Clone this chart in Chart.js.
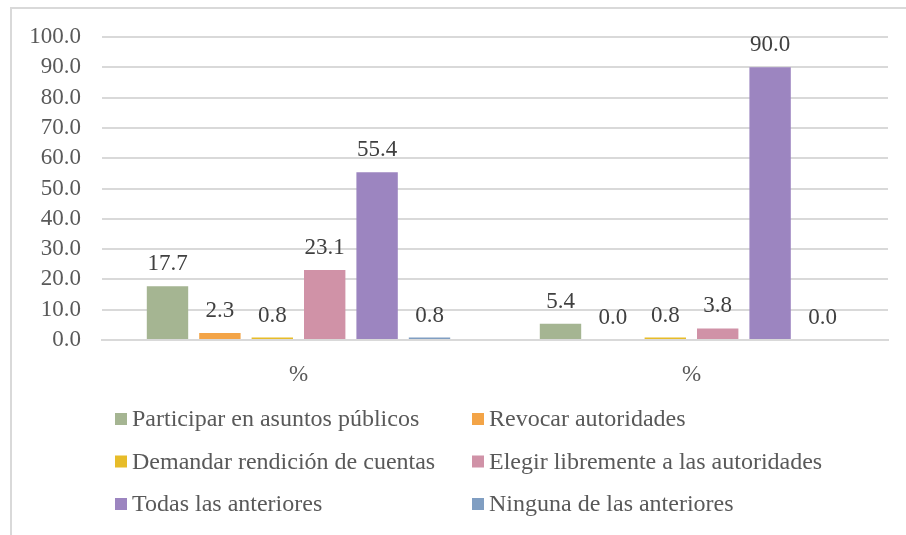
<!DOCTYPE html>
<html>
<head>
<meta charset="utf-8">
<script src="https://cdn.jsdelivr.net/npm/chart.js@4/dist/chart.umd.min.js"></script>
<style>
    body { margin: 0; background: #fff; }
    #wrap { position: relative; width: 906px; height: 535px; }
    #frame { position: absolute; left: 10px; top: 7px; right: 0; bottom: 0;
             border-left: 2px solid #d9d9d9; border-top: 2px solid #d9d9d9; }
    canvas { position: absolute; left: 0; top: 0; }
</style>
</head>
<body>
<div id="wrap">
    <div id="frame"></div>
    <canvas id="chart" width="906" height="535"></canvas>
</div>
<script>
// Categorie e serie
const categories = ["%", "%"];
const seriesNames = [
    "Participar en asuntos públicos",
    "Revocar autoridades",
    "Demandar rendición de cuentas",
    "Elegir libremente a las autoridades",
    "Todas las anteriores",
    "Ninguna de las anteriores"
];
const participar = [17.7, 5.4];
const revocar = [2.3, 0.0];
const demandar = [0.8, 0.8];
const elegir = [23.1, 3.8];
const todas = [55.4, 90.0];
const ninguna = [0.8, 0.0];
const yTicks = [0, 10, 20, 30, 40, 50, 60, 70, 80, 90, 100];
const colors = ["#a5b592", "#f3a447", "#e7bc29", "#d092a7", "#9c85c0", "#809ec2"];

const FONT = "Liberation Serif";
const SIZE = 23;

// Etichette dei valori sopra le barre
const valueLabels = {
    id: "valueLabels",
    afterDatasetsDraw(chart) {
        const ctx = chart.ctx;
        ctx.save();
        ctx.font = SIZE + "px '" + FONT + "'";
        ctx.fillStyle = "#404040";
        ctx.textAlign = "center";
        ctx.textBaseline = "alphabetic";
        chart.data.datasets.forEach((ds, i) => {
            chart.getDatasetMeta(i).data.forEach((bar, j) => {
                ctx.fillText(ds.data[j].toFixed(1), bar.x, bar.y - 16);
            });
        });
        ctx.restore();
    }
};

// Legenda su due colonne
const twoColLegend = {
    id: "twoColLegend",
    afterDraw(chart) {
        const ctx = chart.ctx;
        ctx.save();
        ctx.font = "24px '" + FONT + "'";
        ctx.textBaseline = "middle";
        chart.data.datasets.forEach((ds, i) => {
            const col = i % 2;
            const row = Math.floor(i / 2);
            const x = col === 0 ? 115 : 472;
            const y = 419 + row * 42.5;
            ctx.fillStyle = ds.backgroundColor;
            ctx.fillRect(x, y - 6, 12, 12);
            ctx.fillStyle = "#595959";
            ctx.fillText(ds.label, x + 17, y + 1);
        });
        ctx.restore();
    }
};

const seriesData = [participar, revocar, demandar, elegir, todas, ninguna];

function drawChart() {
    new Chart(document.getElementById("chart").getContext("2d"), {
        type: "bar",
        data: {
            labels: categories,
            datasets: seriesData.map((d, i) => ({
                label: seriesNames[i],
                data: d,
                backgroundColor: colors[i],
                categoryPercentage: 0.8,
                barPercentage: 0.79
            }))
        },
        options: {
            responsive: false,
            animation: false,
            layout: { padding: { top: 37, right: 18, left: 0, bottom: 0 } },
            plugins: {
                legend: { display: false },
                tooltip: { enabled: false }
            },
            scales: {
                x: {
                    grid: { display: false },
                    border: { color: "#d9d9d9", width: 2 },
                    ticks: { font: { family: FONT, size: SIZE }, color: "#595959", padding: 13 },
                    afterFit(scale) { scale.height = 195; }
                },
                y: {
                    min: 0,
                    max: 100,
                    afterBuildTicks(scale) { scale.ticks = yTicks.map(v => ({ value: v })); },
                    grid: { color: "#d9d9d9", lineWidth: 2, drawTicks: false },
                    border: { display: false },
                    ticks: {
                        autoSkip: false,
                        font: { family: FONT, size: SIZE },
                        color: "#595959",
                        padding: 21,
                        callback: v => v.toFixed(1)
                    },
                    afterFit(scale) { scale.width = 102; }
                }
            }
        },
        plugins: [valueLabels, twoColLegend]
    });
}

// Aspetta il font prima di disegnare
document.fonts.load(SIZE + "px '" + FONT + "'").then(drawChart, drawChart);
</script>
</body>
</html>
